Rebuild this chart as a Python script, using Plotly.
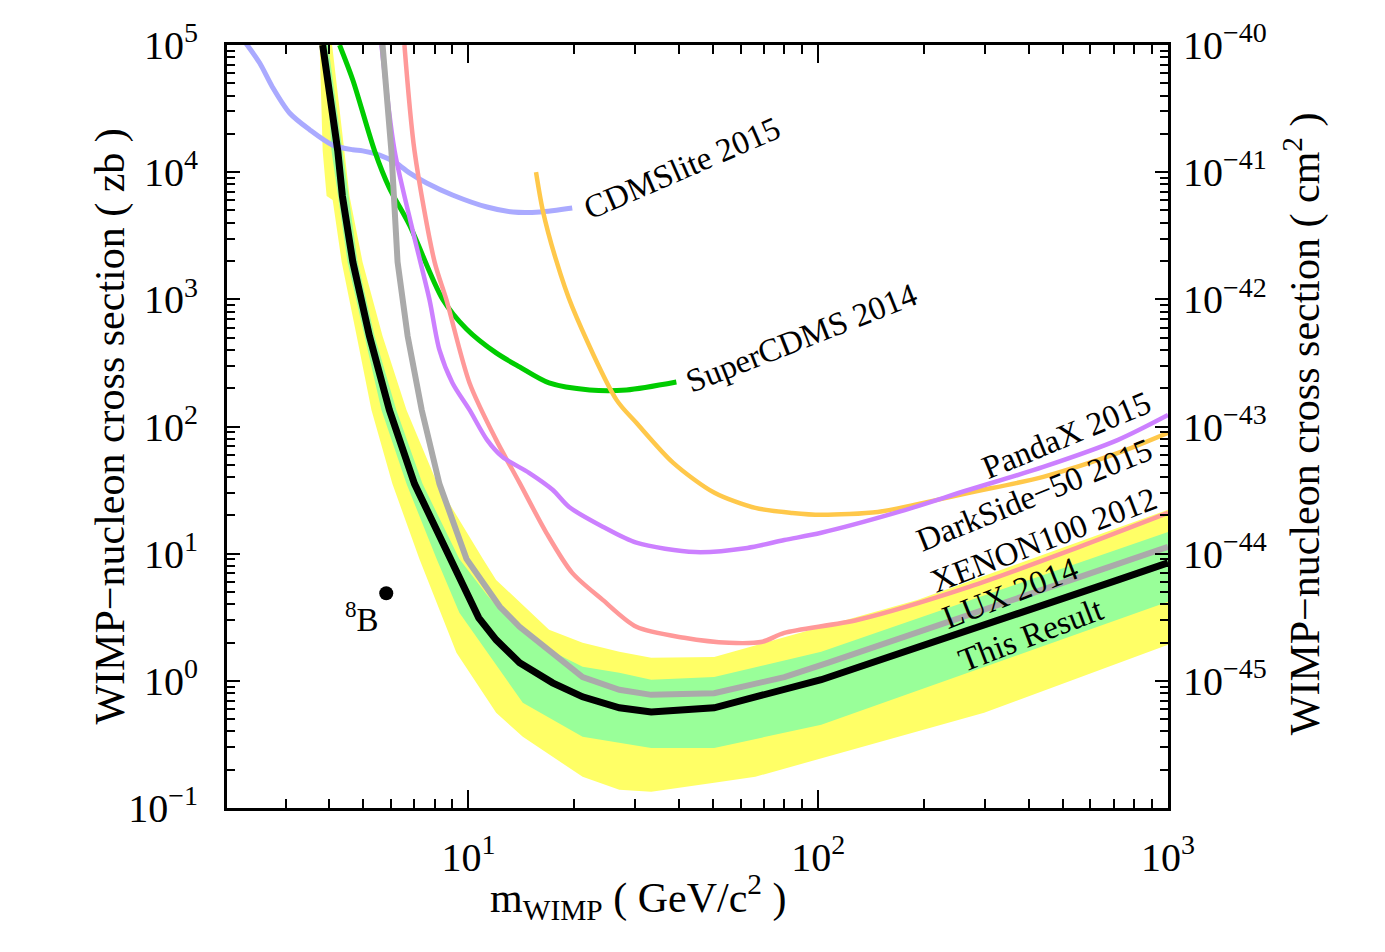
import math
import plotly.graph_objects as go

# ---------------- data (WIMP mass in GeV/c^2, cross section in zb) ----------------
this_m = [3.83, 4.23, 4.36, 4.67, 5.21, 5.94, 7.01, 8.83, 10.7, 12.0, 14.0, 17.4, 21.2, 27.0, 33.3, 50.4, 71.0, 102, 720, 1000]
this_s = [1e5, 14700, 6500, 1970, 515, 135, 35.4, 9.10, 3.13, 2.10, 1.39, 0.965, 0.749, 0.614, 0.570, 0.614, 0.776, 1.02, 6.22, 8.47]

y2lo_m = [3.75, 3.83, 3.93, 4.09, 4.34, 4.79, 5.28, 6.06, 7.24, 8.43, 9.24, 12.0, 14.3, 21.2, 27.0, 33.3, 50.4, 66.1, 298, 1000]
y2lo_s = [1.1e5, 14700, 6500, 6040, 1970, 515, 135, 35.4, 9.10, 3.13, 1.66, 0.560, 0.363, 0.176, 0.139, 0.134, 0.158, 0.176, 0.560, 1.92]
y2hi_m = [4.06, 4.42, 4.57, 4.98, 5.68, 6.65, 8.15, 11.0, 12.0, 17.0, 21.2, 27.0, 33.3, 50.4, 192, 1000]
y2hi_s = [1.1e5, 14700, 6500, 1970, 515, 135, 35.4, 9.10, 6.22, 2.52, 1.99, 1.69, 1.52, 1.54, 4.33, 22.1]

g1lo_m = [3.88, 4.06, 4.51, 5.05, 5.64, 6.65, 8.11, 9.42, 14.3, 21.2, 27.0, 33.3, 50.4, 102, 1000]
g1lo_s = [1.1e5, 14700, 1970, 515, 135, 35.4, 9.10, 3.43, 0.672, 0.363, 0.326, 0.297, 0.297, 0.451, 4.18]
g1hi_m = [3.95, 4.36, 4.82, 5.39, 6.22, 7.39, 9.42, 11.3, 12.5, 17.4, 21.2, 27.0, 33.3, 50.4, 102, 1000]
g1hi_s = [1.1e5, 14700, 1970, 515, 135, 35.4, 9.10, 4.74, 3.43, 1.69, 1.29, 1.16, 1.02, 1.07, 1.69, 14.8]

lux_m = [5.68, 6.02, 6.27, 6.70, 7.35, 8.26, 9.87, 12.3, 14.0, 17.4, 21.2, 27.0, 33.3, 50.4, 80, 107, 1000]
lux_s = [1e5, 14700, 1970, 515, 135, 35.4, 9.10, 3.82, 2.66, 1.66, 1.07, 0.85, 0.776, 0.80, 1.07, 1.39, 11.3]

xe_m = [6.56, 7.01, 8.0, 8.65, 10.07, 12.0, 14.0, 16.7, 19.8, 24.2, 30.2, 41.4, 55.6, 69.2, 80.0, 130, 270, 558, 1000]
xe_s = [1e5, 14700, 1970, 989, 220, 78.5, 36.0, 14.6, 7.06, 4.33, 2.66, 2.18, 1.99, 2.03, 2.38, 3.02, 5.48, 11.3, 20.9]

px_m = [5.64, 6.15, 6.92, 7.74, 8.26, 9.0, 10.07, 11.3, 12.5, 14.9, 17.4, 19.4, 24.2, 30.2, 44.5, 62.7, 80.0, 102, 166, 270, 440, 720, 1000]
px_s = [1e5, 14700, 3515, 989, 400, 220, 135, 78.5, 57.7, 43.2, 31.8, 23.3, 16.3, 12.2, 10.3, 11.1, 12.8, 14.6, 20.9, 31.8, 48.1, 78.5, 123]

ds_m = [15.6, 16.3, 17.8, 19.8, 26.5, 30.2, 38.5, 50.5, 66.1, 84.3, 102, 148, 188, 270, 440, 720, 1000]
ds_s = [1.0e4, 5050, 2040, 871, 162, 107, 51.8, 30.1, 22.9, 20.9, 20.2, 21.3, 24.2, 30.1, 40.2, 61.9, 89.1]

sc_m = [4.28, 4.67, 5.39, 5.94, 6.78, 8.43, 9.87, 12.0, 14.0, 17.0, 22.2, 28.3, 39.3]
sc_s = [1e5, 53100, 14700, 7510, 3845, 1007, 585, 379, 294, 220, 194, 194, 224]

cl_m = [2.30, 2.53, 2.75, 3.08, 3.52, 4.08, 4.67, 4.98, 5.57, 6.22, 6.78, 7.59, 9.0, 11.3, 13.4, 16.0, 19.8]
cl_s = [1.05e5, 72100, 46800, 29200, 21500, 16400, 15000, 14700, 13600, 11800, 9860, 8220, 6620, 5320, 4860, 4860, 5220]

b8_m = [5.82]
b8_s = [4.89]

x_major = [10, 100, 1000]
x_major_text = ["10<sup>1</sup>", "10<sup>2</sup>", "10<sup>3</sup>"]
y_major = [0.1, 1, 10, 100, 1000, 1e4, 1e5]
y_major_text = ["10<sup>−1</sup>", "10<sup>0</sup>", "10<sup>1</sup>", "10<sup>2</sup>",
                "10<sup>3</sup>", "10<sup>4</sup>", "10<sup>5</sup>"]
y2_major = [1e-45, 1e-44, 1e-43, 1e-42, 1e-41, 1e-40]
y2_major_text = ["10<sup>−45</sup>", "10<sup>−44</sup>", "10<sup>−43</sup>",
                 "10<sup>−42</sup>", "10<sup>−41</sup>", "10<sup>−40</sup>"]

FONT = "Liberation Serif, Times New Roman, serif"

x_minor = [d * 10 ** e for e in range(0, 3) for d in range(2, 10)]
y_minor = [d * 10 ** e for e in range(-1, 5) for d in range(2, 10)]
y2_minor = [d * 10 ** e for e in range(-46, -40) for d in range(2, 10)]

fig = go.Figure()

# bands
fig.add_trace(go.Scatter(x=y2hi_m + y2lo_m[::-1], y=y2hi_s + y2lo_s[::-1], fill="toself",
                         fillcolor="#FFFF66", line=dict(width=0), mode="lines", hoverinfo="skip"))
fig.add_trace(go.Scatter(x=g1hi_m + g1lo_m[::-1], y=g1hi_s + g1lo_s[::-1], fill="toself",
                         fillcolor="#99FF99", line=dict(width=0), mode="lines", hoverinfo="skip"))

def line(m, s, color, width, smooth=True):
    ln = dict(color=color, width=width)
    if smooth:
        ln.update(shape="spline", smoothing=0.8)
    fig.add_trace(go.Scatter(x=m, y=s, mode="lines", line=ln))

line(cl_m, cl_s, "#AAAAFF", 5)
line(sc_m, sc_s, "#00CC00", 5)
line(ds_m, ds_s, "#FFC84A", 4.5)
line(xe_m, xe_s, "#FF9999", 4.5)
line(px_m, px_s, "#CC80FF", 4.5)
line(lux_m, lux_s, "#AAAAAA", 6, smooth=False)
line(this_m, this_s, "#000000", 7, smooth=False)

fig.add_trace(go.Scatter(x=b8_m, y=b8_s, mode="markers",
                         marker=dict(color="black", size=14)))
fig.add_trace(go.Scatter(x=[None], y=[None], yaxis="y2", mode="markers", showlegend=False))

axis_common = dict(showline=True, linewidth=3, linecolor="black", ticks="inside",
                   tickcolor="black", tickwidth=2, showgrid=False, zeroline=False,
                   tickfont=dict(size=40, family=FONT, color="black"))

fig.update_layout(
    width=1385, height=952,
    margin=dict(l=227, r=217, t=45, b=144),
    paper_bgcolor="white", plot_bgcolor="white",
    showlegend=False,
    font=dict(family=FONT, color="black"),
    xaxis=dict(type="log", range=[math.log10(2.04), 3], mirror="ticks", ticklen=18,
               tickvals=x_major, ticktext=x_major_text, ticklabelstandoff=12,
               minor=dict(ticks="inside", ticklen=9, tickwidth=2, tickcolor="black",
                          tickvals=x_minor, showgrid=False),
               **axis_common),
    yaxis=dict(type="log", range=[-1, 5], ticklen=13,
               tickvals=y_major, ticktext=y_major_text, ticklabelstandoff=18,
               minor=dict(ticks="inside", ticklen=8, tickwidth=2, tickcolor="black",
                          tickvals=y_minor, showgrid=False),
               **axis_common),
    yaxis2=dict(type="log", range=[-46, -40], overlaying="y", side="right", ticklen=13,
                tickvals=y2_major, ticktext=y2_major_text, ticklabelstandoff=4,
                minor=dict(ticks="inside", ticklen=8, tickwidth=2, tickcolor="black",
                           tickvals=y2_minor, showgrid=False),
                **axis_common),
)

ann_font = dict(family=FONT, size=33, color="black")
labels = [
    ("CDMSlite 2015", 1.611, 4.033, -23.5),
    ("SuperCDMS 2014", 1.951, 2.697, -21.5),
    ("PandaX 2015", 2.711, 1.934, -22.5),
    ("DarkSide−50 2015", 2.617, 1.462, -22),
    ("XENON100 2012", 2.643, 1.108, -21),
    ("LUX 2014", 2.549, 0.692, -21.5),
    ("This Result", 2.606, 0.362, -21),
]
for txt, lx, ly, ang in labels:
    fig.add_annotation(x=lx, y=ly, xref="x", yref="y", text=txt, textangle=ang,
                       showarrow=False, font=ann_font, xanchor="center", yanchor="middle")

fig.add_annotation(x=0.697, y=0.503, xref="x", yref="y", text="<sup>8</sup>B",
                   showarrow=False, font=dict(family=FONT, size=33, color="black"))

title_font = dict(family=FONT, size=42, color="black")
fig.add_annotation(x=-0.1243, y=0.5, xref="paper", yref="paper",
                   text="WIMP−nucleon cross section ( zb )", textangle=-90,
                   showarrow=False, font=title_font, xanchor="center", yanchor="middle")
fig.add_annotation(x=1.1435, y=0.503, xref="paper", yref="paper",
                   text="WIMP−nucleon cross section ( cm<sup>2</sup> )", textangle=-90,
                   showarrow=False, font=title_font, xanchor="center", yanchor="middle")
fig.add_annotation(x=0.4368, y=-0.116, xref="paper", yref="paper",
                   text="m<sub>WIMP</sub> ( GeV/c<sup>2</sup> )",
                   showarrow=False, font=title_font, xanchor="center", yanchor="middle")

fig.write_html("out.html")
